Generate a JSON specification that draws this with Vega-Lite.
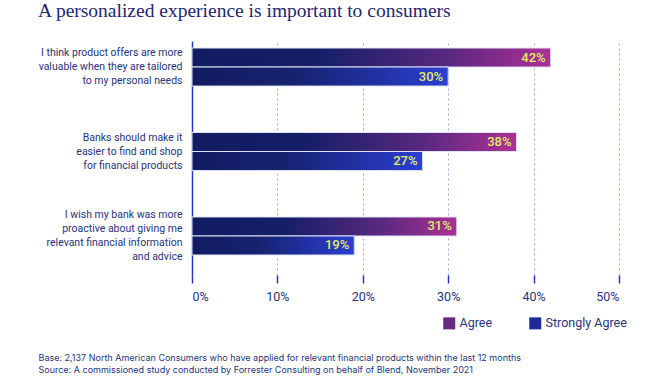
{
  "$schema": "https://vega.github.io/schema/vega-lite/v6.json",
  "autosize": {"type": "none"},
  "padding": {"left": 192, "top": 41, "right": 43, "bottom": 117},
  "width": 427,
  "height": 234,
  "background": "white",
  "title": {
    "text": "A personalized experience is important to consumers",
    "anchor": "start",
    "frame": "group",
    "dx": -154,
    "offset": 5,
    "baseline": "alphabetic",
    "font": "Liberation Serif",
    "fontSize": 19.5,
    "fontWeight": "normal",
    "color": "#1d2870"
  },
  "config": {
    "view": {"stroke": null},
    "font": "Roboto"
  },
  "data": {
    "values": [
      {"q": "I think product offers are more|valuable when they are tailored|to my personal needs", "series": "Agree", "value": 0.42},
      {"q": "I think product offers are more|valuable when they are tailored|to my personal needs", "series": "Strongly Agree", "value": 0.30},
      {"q": "Banks should make it|easier to find and shop|for financial products", "series": "Agree", "value": 0.38},
      {"q": "Banks should make it|easier to find and shop|for financial products", "series": "Strongly Agree", "value": 0.27},
      {"q": "I wish my bank was more|proactive about giving me|relevant financial information|and advice", "series": "Agree", "value": 0.31},
      {"q": "I wish my bank was more|proactive about giving me|relevant financial information|and advice", "series": "Strongly Agree", "value": 0.19}
    ]
  },
  "encoding": {
    "y": {
      "field": "q",
      "type": "nominal",
      "sort": null,
      "scale": {"paddingInner": 0.55, "paddingOuter": 0.16, "align": 0.26},
      "axis": {
        "title": null,
        "labelExpr": "split(datum.value, '|')",
        "labelFont": "Roboto",
        "labelFontSize": 10.5,
        "labelLineHeight": 14,
        "labelColor": "#28337a",
        "labelPadding": 10,
        "labelLimit": 300,
        "labelOffset": {"condition": {"test": "indexof(datum.value, 'I wish') == 0", "value": -21}, "value": -14},
        "ticks": false,
        "domain": true,
        "domainColor": "#2535c8",
        "domainWidth": 1.5,
        "grid": false
      }
    },
    "yOffset": {
      "field": "series",
      "type": "nominal",
      "sort": ["Agree", "Strongly Agree"],
      "scale": {"paddingInner": 0, "paddingOuter": 0}
    },
    "x": {
      "field": "value",
      "type": "quantitative",
      "stack": null,
      "scale": {"domain": [0, 0.5], "nice": false},
      "axis": {
        "values": [0, 0.1, 0.2, 0.3, 0.4, 0.5],
        "format": ".0%",
        "labelFont": "Roboto",
        "labelFontSize": 12.5,
        "labelColor": "#28337a",
        "labelPadding": 7,
        "tickSize": 8,
        "tickColor": "#2535c8",
        "tickWidth": 1.5,
        "domain": false,
        "grid": true,
        "gridColor": "#9aa6e6",
        "gridDash": [2, 3],
        "gridWidth": 1,
        "title": [
          "Base: 2,137 North American Consumers who have applied for relevant financial products within the last 12 months",
          "Source: A commissioned study conducted by Forrester Consulting on behalf of Blend, November 2021"
        ],
        "titleFont": "Inter",
        "titleFontSize": 9,
        "titleFontWeight": "normal",
        "titleColor": "#28337a",
        "titleLineHeight": 12.7,
        "titleAnchor": "start",
        "titleAlign": "left",
        "titleBaseline": "middle",
        "titleX": -154,
        "titleY": 82.3
      }
    }
  },
  "layer": [
    {
      "mark": {"type": "bar"},
      "encoding": {
        "color": {
          "field": "series",
          "type": "nominal",
          "sort": ["Agree", "Strongly Agree"],
          "scale": {
            "domain": ["Agree", "Strongly Agree"],
            "range": ["#6a2a84", "#1c2a9a"]
          },
          "legend": {
            "title": null,
            "orient": "none",
            "direction": "horizontal",
            "legendX": 251,
            "legendY": 276,
            "symbolType": "square",
            "symbolSize": 144,
            "symbolStrokeWidth": 0,
            "labelFont": "Roboto",
            "labelFontSize": 12.5,
            "labelColor": "#28337a",
            "labelOffset": 4,
            "columnPadding": 36,
            "symbolOpacity": 1,
            "encode": {
              "symbols": {
                "update": {
                  "fill": {"signal": "datum.value == 'Agree' ? {gradient: 'linear', x1: 0, y1: 0, x2: 1, y2: 1, stops: [{offset: 0, color: '#1a1d66'}, {offset: 1, color: '#b0339c'}]} : {gradient: 'linear', x1: 0, y1: 0, x2: 1, y2: 1, stops: [{offset: 0, color: '#131d66'}, {offset: 1, color: '#2b3fd2'}]}"},
                  "stroke": {"value": "transparent"}
                }
              }
            }
          }
        }
      }
    },
    {
      "mark": {
        "type": "bar",
        "stroke": "#dfe2f5",
        "strokeWidth": 1,
        "fill": {"expr": "datum.series == 'Agree' ? {gradient: 'linear', x1: 0, y1: 0, x2: 1, y2: 0, stops: [{offset: 0, color: '#111c62'}, {offset: 0.35, color: '#141f68'}, {offset: 0.7, color: '#56287e'}, {offset: 1, color: '#ac3196'}]} : {gradient: 'linear', x1: 0, y1: 0, x2: 1, y2: 0, stops: [{offset: 0, color: '#111c62'}, {offset: 0.4, color: '#16226f'}, {offset: 1, color: '#2b3fd2'}]}"}
      },
      "encoding": {}
    },
    {
      "mark": {"type": "text", "align": "right", "baseline": "middle", "dx": -5, "font": "Roboto", "fontSize": 13, "fontWeight": 500, "color": "#e4ee63"},
      "encoding": {
        "text": {"field": "value", "type": "quantitative", "format": ".0%"}
      }
    }
  ]
}
